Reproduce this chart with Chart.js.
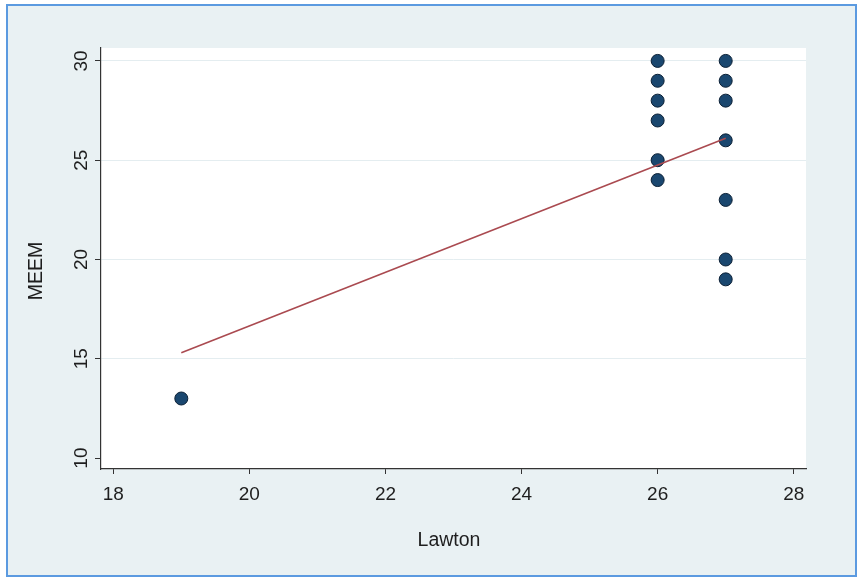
<!DOCTYPE html>
<html>
<head>
<meta charset="utf-8">
<script src="https://cdn.jsdelivr.net/npm/chart.js@4"></script>
<style>
  html, body { margin:0; padding:0; background:#ffffff; }
  #frame { position:absolute; left:6px; top:4px; width:847px; height:569px;
           border:2px solid #5b9ae0; background:#e9f1f3; }
  #c { position:absolute; left:0; top:0; }
</style>
</head>
<body>
<div id="frame"></div>
<canvas id="c" width="859" height="577"></canvas>
<script>
// Lawton vs MEEM scatter with linear fit
const LAWTON = [19, 26, 26, 26, 26, 26, 26, 27, 27, 27, 27, 27, 27, 27];
const MEEM   = [13, 30, 29, 28, 27, 25, 24, 30, 29, 28, 26, 23, 20, 19];
const FIT_X  = [19, 27];
const FIT_Y  = [15.3, 26.1];
const X_TICKS = [18, 20, 22, 24, 26, 28];
const Y_TICKS = [10, 15, 20, 25, 30];

const FONT = "'Liberation Sans', Arial, sans-serif";
const INK = "#1e1e1e";

// white plot region + rotated y labels + axis titles
const decor = {
  id: "decor",
  beforeDraw(chart){
    const {ctx, chartArea:a} = chart;
    ctx.save();
    ctx.fillStyle = "#ffffff";
    ctx.fillRect(a.left, a.top, a.right - a.left, a.bottom - a.top);
    ctx.restore();
  },
  afterDraw(chart){
    const {ctx} = chart;
    const y = chart.scales.y;
    ctx.save();
    ctx.fillStyle = INK;
    ctx.font = "19px " + FONT;
    ctx.textAlign = "center";
    ctx.textBaseline = "middle";
    for (const v of Y_TICKS){
      const py = y.getPixelForValue(v);
      ctx.save();
      ctx.translate(82, py);
      ctx.rotate(-Math.PI/2);
      ctx.fillText(String(v), 0, 0);
      ctx.restore();
    }
    ctx.font = "19.5px " + FONT;
    ctx.save();
    ctx.translate(37, 271);
    ctx.rotate(-Math.PI/2);
    ctx.fillText("MEEM", 0, 0);
    ctx.restore();
    ctx.fillText("Lawton", 449, 541);
    ctx.restore();
  }
};

new Chart(document.getElementById("c"), {
  data: {
    datasets: [
      { type:"line", label:"Fitted values",
        data: FIT_X.map((x,i)=>({x, y:FIT_Y[i]})),
        borderColor:"#aa4a50", borderWidth:1.6, pointRadius:0, fill:false, order:0 },
      { type:"scatter", label:"MEEM",
        data: LAWTON.map((x,i)=>({x, y:MEEM[i]})),
        backgroundColor:"#1a476f", borderColor:"#0b2036", borderWidth:1,
        pointRadius:6.5, order:1 }
    ]
  },
  plugins:[decor],
  options: {
    responsive:false, animation:false,
    layout:{ padding:{ left:0, top:48, right:53, bottom:0 } },
    plugins:{ legend:{display:false}, tooltip:{enabled:false} },
    scales:{
      x:{
        type:"linear", min:17.82, max:28.18,
        afterBuildTicks:(s)=>{ s.ticks = X_TICKS.map(v=>({value:v})); },
        afterFit:(s)=>{ s.height = 108; },
        grid:{ drawOnChartArea:false, drawTicks:true, tickLength:5, tickColor:"#333", color:"#333" },
        border:{ display:true, color:"#333", width:1.2 },
        ticks:{ color:INK, font:{size:19, family:FONT}, padding:9, maxRotation:0 }
      },
      y:{
        type:"linear", min:9.45, max:30.65,
        afterBuildTicks:(s)=>{ s.ticks = Y_TICKS.map(v=>({value:v})); },
        afterFit:(s)=>{ s.width = 101; },
        grid:{ drawTicks:true, tickLength:6, tickColor:"#333",
               color:(c)=> (c.tick && c.tick.value === 10) ? "rgba(0,0,0,0)" : "#e4edf0" },
        border:{ display:true, color:"#333", width:1.2 },
        ticks:{ color:"rgba(0,0,0,0)", font:{size:19, family:FONT} }
      }
    }
  }
});
</script>
</body>
</html>
